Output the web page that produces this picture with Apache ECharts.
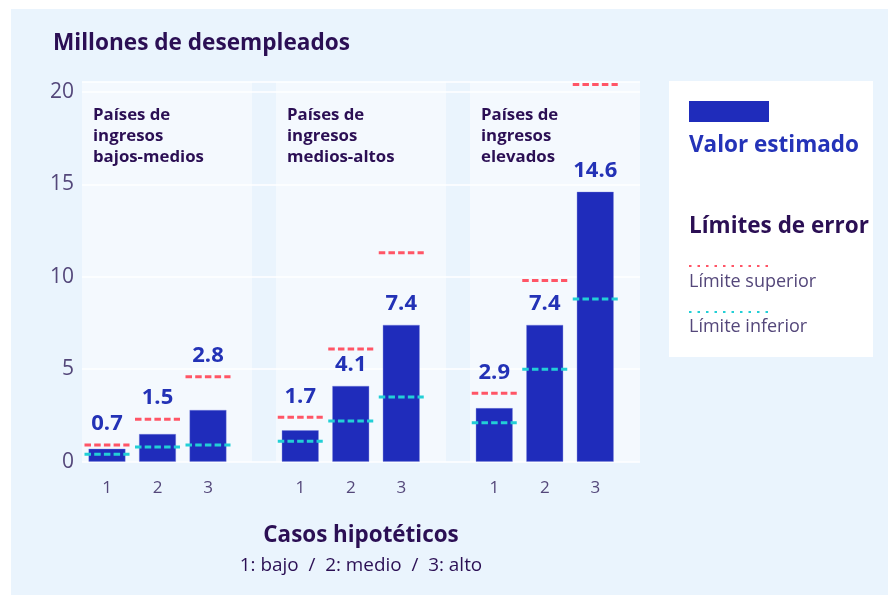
<!DOCTYPE html>
<html>
<head>
<meta charset="utf-8">
<script src="https://cdn.jsdelivr.net/npm/echarts@6/dist/echarts.min.js"></script>
<style>
  html, body { margin: 0; padding: 0; background: #ffffff; }
  #main { width: 888px; height: 595px; }
</style>
</head>
<body>
<div id="main"></div>
<script>
// datos
const categories = ["1", "2", "3"];
const groupNames = ["Países de\ningresos\nbajos-medios", "Países de\ningresos\nmedios-altos", "Países de\ningresos\nelevados"];
const estimate = [[0.7, 1.5, 2.8], [1.7, 4.1, 7.4], [2.9, 7.4, 14.6]];
const upper = [[0.9, 2.3, 4.6], [2.4, 6.1, 11.3], [3.7, 9.8, 20.4]];
const lower = [[0.4, 0.8, 0.9], [1.1, 2.2, 3.5], [2.1, 5.0, 8.8]];
const yTicks = [0, 5, 10, 15, 20];

const FONT = "'Open Sans', 'Noto Sans', sans-serif";
const BAR = "#1f2cbb";
const RED = "#ff5566";
const CYAN = "#22cfd6";
const DARK = "#2b0f54";
const GREY = "#54477a";

const yMax = 20.55;
const plotTop = 81.7, plotHeight = 380;
const panelLeft = [82, 276, 470];
const panelWidth = 170;
const gridLeft = [81.75, 275, 469];

const chart = echarts.init(document.getElementById("main"));

const grids = [], xAxes = [], yAxes = [], series = [];
for (let g = 0; g < 3; g++) {
  grids.push({ left: gridLeft[g], top: plotTop, width: 151.5, height: plotHeight });
  xAxes.push({
    gridIndex: g, type: "category", data: categories,
    axisLine: { show: false }, axisTick: { show: false },
    axisLabel: { color: GREY, fontSize: 17, fontFamily: FONT, margin: 18 }
  });
  yAxes.push({
    gridIndex: g, type: "value", min: 0, max: yMax, interval: 5,
    axisLabel: { show: false }, splitLine: { show: false },
    axisLine: { show: false }, axisTick: { show: false }
  });
  series.push({
    type: "bar", xAxisIndex: g, yAxisIndex: g,
    data: estimate[g], barWidth: 37,
    itemStyle: { color: BAR, borderColor: "rgba(120,130,220,0.6)", borderWidth: 0.6 }
  });
  series.push({
    type: "custom", xAxisIndex: g, yAxisIndex: g, z: 4,
    encode: { x: 0, y: 1 },
    data: estimate[g].map((v, i) => [i, v, upper[g][i], lower[g][i]]),
    renderItem: function (params, api) {
      const x = api.value(0);
      const v = api.value(1);
      const pBar = api.coord([x, v]);
      const pUp = api.coord([x, api.value(2)]);
      const pLo = api.coord([x, api.value(3)]);
      const half = 22.5;
      const anchor = (pBar[1] - pUp[1] < 35) ? pUp[1] : pBar[1];
      return {
        type: "group",
        children: [
          { type: "line", shape: { x1: pUp[0] - half, y1: pUp[1], x2: pUp[0] + half, y2: pUp[1] },
            style: { stroke: RED, lineWidth: 3, lineDash: [6.5, 3.2] } },
          { type: "line", shape: { x1: pLo[0] - half, y1: pLo[1], x2: pLo[0] + half, y2: pLo[1] },
            style: { stroke: CYAN, lineWidth: 3, lineDash: [6.5, 3.2] } },
          { type: "text", x: pBar[0], y: anchor - 21,
            style: { text: v.toFixed(1), fill: "#2332b6", fontSize: 22, fontWeight: "bold",
                     fontFamily: FONT, align: "center", verticalAlign: "middle" } }
        ]
      };
    }
  });
}
// rejilla completa para las etiquetas del eje y y las líneas guía
grids.push({ left: 82, top: plotTop, width: 558, height: plotHeight });
xAxes.push({ gridIndex: 3, type: "value", min: 0, max: 1, show: false });
yAxes.push({
  gridIndex: 3, type: "value", min: 0, max: yMax, interval: 5, z: 1,
  axisLine: { show: false }, axisTick: { show: false },
  axisLabel: {
    color: GREY, fontSize: 21, fontFamily: FONT, margin: 8, showMaxLabel: false,
    formatter: (val) => (yTicks.indexOf(val) >= 0 ? String(val) : "")
  },
  splitLine: { lineStyle: { color: "#ffffff", width: 1.5 } }
});

const graphics = [
  { type: "rect", z: -10, shape: { x: 11, y: 9, width: 877, height: 586 }, style: { fill: "#eaf4fd" } },
  { type: "text", x: 53, y: 44, style: { text: "Millones de desempleados", fill: DARK, fontSize: 22.6,
      fontWeight: "bold", fontFamily: FONT, verticalAlign: "middle" } },
  // leyenda
  { type: "rect", shape: { x: 669, y: 81, width: 204, height: 276 }, style: { fill: "#ffffff" } },
  { type: "rect", shape: { x: 689, y: 101, width: 80, height: 21 }, style: { fill: BAR } },
  { type: "text", x: 689, y: 146, style: { text: "Valor estimado", fill: "#2433b8", fontSize: 22.5,
      fontWeight: "bold", fontFamily: FONT, verticalAlign: "middle" } },
  { type: "text", x: 689, y: 227, style: { text: "Límites de error", fill: DARK, fontSize: 22.5,
      fontWeight: "bold", fontFamily: FONT, verticalAlign: "middle" } },
  { type: "line", shape: { x1: 689, y1: 266, x2: 770, y2: 266 }, style: { stroke: RED, lineWidth: 2.2, lineDash: [2.5, 6] } },
  { type: "text", x: 689, y: 282, style: { text: "Límite superior", fill: GREY, fontSize: 18,
      fontFamily: FONT, verticalAlign: "middle" } },
  { type: "line", shape: { x1: 689, y1: 312, x2: 770, y2: 312 }, style: { stroke: CYAN, lineWidth: 2.2, lineDash: [2.5, 6] } },
  { type: "text", x: 689, y: 327, style: { text: "Límite inferior", fill: GREY, fontSize: 18,
      fontFamily: FONT, verticalAlign: "middle" } },
  // título del eje x
  { type: "text", x: 361, y: 536, style: { text: "Casos hipotéticos", fill: DARK, fontSize: 22.4,
      fontWeight: "bold", fontFamily: FONT, align: "center", verticalAlign: "middle" } },
  { type: "text", x: 361, y: 566, style: { text: "1: bajo  /  2: medio  /  3: alto", fill: DARK, fontSize: 18.9,
      fontFamily: FONT, align: "center", verticalAlign: "middle" } }
];
for (let g = 0; g < 3; g++) {
  graphics.push({ type: "rect", z: -5, shape: { x: panelLeft[g], y: plotTop, width: panelWidth, height: plotHeight },
    style: { fill: "#f4f9fe" } });
  graphics.push({ type: "text", x: panelLeft[g] + 11, y: 105, style: { text: groupNames[g], fill: DARK,
    fontSize: 16.8, fontWeight: "bold", fontFamily: FONT, lineHeight: 21, verticalAlign: "top" } });
}

chart.setOption({
  backgroundColor: "#ffffff",
  animation: false,
  grid: grids,
  xAxis: xAxes,
  yAxis: yAxes,
  series: series,
  graphic: graphics
});
</script>
</body>
</html>
